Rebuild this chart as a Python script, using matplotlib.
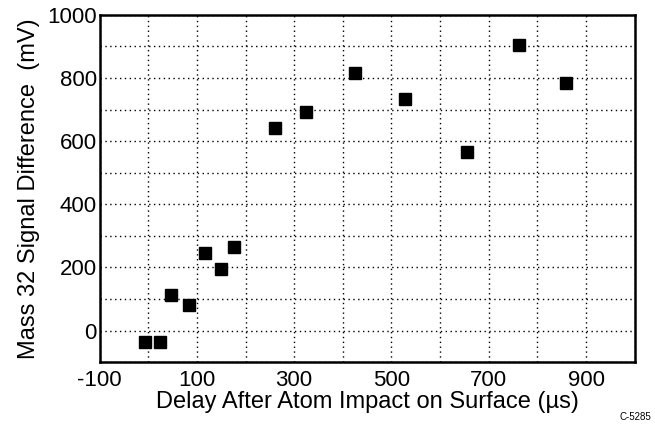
import numpy as np
import matplotlib
matplotlib.use("Agg")
import matplotlib.pyplot as plt
from matplotlib.ticker import MultipleLocator

# Data
delay_us = [-7, 24, 47, 83, 116, 150, 177, 260, 325, 426, 527, 655, 762, 859]
signal_mv = [-35, -35, 112, 82, 245, 194, 266, 641, 693, 815, 733, 567, 905, 785]

x_ticks = [-100, 100, 300, 500, 700, 900]
y_ticks = [0, 200, 400, 600, 800, 1000]

plt.rcParams["font.family"] = ["Liberation Sans", "DejaVu Sans"]
plt.rcParams["axes.unicode_minus"] = False

fig = plt.figure(figsize=(6.55, 4.25), dpi=100)
ax = fig.add_axes([0.152, 0.148, 0.817, 0.817])

ax.plot(delay_us, signal_mv, linestyle="none", marker="s",
        markersize=8.8, color="black")

ax.set_xlim(-100, 1000)
ax.set_ylim(-100, 1000)
ax.set_xticks(x_ticks)
ax.set_yticks(y_ticks)
ax.xaxis.set_minor_locator(MultipleLocator(100))
ax.yaxis.set_minor_locator(MultipleLocator(100))
ax.grid(which="both", color="black", linestyle=(0, (1, 2.5)), linewidth=1.0)
ax.tick_params(which="both", length=0, labelsize=16)
ax.tick_params(axis="x", pad=6)
ax.tick_params(axis="y", pad=2)

for s in ax.spines.values():
    s.set_linewidth(1.8)

ax.set_xlabel("Delay After Atom Impact on Surface (\u00b5s)", fontsize=17, labelpad=0)
ax.set_ylabel("Mass 32 Signal Difference  (mV)", fontsize=17, labelpad=5)

fig.text(0.995, 0.008, "C-5285", fontsize=7, ha="right", va="bottom")

fig.savefig("out.png", dpi=100)
